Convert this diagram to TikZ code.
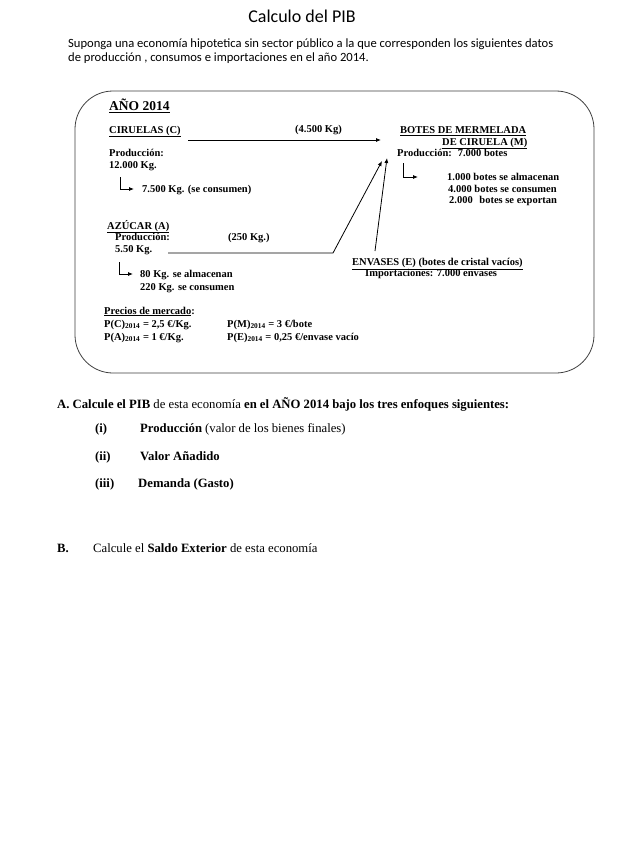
\documentclass[tikz,border=0pt]{standalone}
\usepackage{fontspec}
\setmainfont{Liberation Serif}
\newfontfamily\calfont{Carlito}
\usetikzlibrary{arrows.meta}
\begin{document}
\begin{tikzpicture}[x=1pt,y=-1pt,
  bx/.style={anchor=base west, inner sep=0pt, font=\fontsize{10.5}{12}\selectfont\bfseries},
  low/.style={anchor=base west, inner sep=0pt, font=\fontsize{12.7}{15}\selectfont},
  par/.style={anchor=base west, inner sep=0pt, font=\calfont\fontsize{12.6}{15}\selectfont},
  arr/.style={-{Latex[length=5pt,width=4pt]}, line width=0.8pt},
  frame/.style={line width=0.8pt, rounded corners=38pt, black!75}]
\useasboundingbox (0,0) rectangle (637,848);
\fill[white] (0,0) rectangle (637,848);

% title and intro
\node[anchor=base, inner sep=0pt, font=\calfont\fontsize{18}{21}\selectfont] (title) at (302,23) {Calculo del PIB};
\node[par] (p1) at (68,48) {Suponga una economía hipotetica sin sector público a la que corresponden los siguientes datos};
\node[par] (p2) at (68,62) {de producción , consumos e importaciones en el año 2014.};

% frame
\draw[frame] (75,91) rectangle (594,373);

\node[bx, font=\fontsize{13.5}{15}\selectfont\bfseries] (anio) at (109,111) {\underline{AÑO 2014}};

% Ciruelas
\node[bx] (cir) at (109,133) {\underline{CIRUELAS (C)}};
\node[bx] (q45) at (295,132) {(4.500 Kg)};
\node[bx] (cprod) at (109,156) {Producción:};
\node[bx] (cq) at (109,168) {12.000 Kg.};
\node[bx] (ccons) at (142,192) {7.500 Kg. (se consumen)};

% Mermelada
\node[bx] (m1) at (400,134) {\underline{BOTES DE MERMELADA}};
\node[bx] (m2) at (442,145) {\underline{DE CIRUELA (M)}};
\node[bx] (mprod) at (397,156) {Producción:\hspace{6pt}7.000 botes};
\node[bx] (mal) at (447,180.5) {1.000 botes se almacenan};
\node[bx] (mco) at (448,192) {4.000 botes se consumen};
\node[bx] (mex) at (449,203.5) {2.000\hspace{4pt} botes se exportan};

% Azucar
\node[bx] (az) at (107,229) {\underline{AZÚCAR (A)}};
\node[bx] (aprod) at (115,240.5) {Producción:};
\node[bx] (q250) at (228,240.5) {(250 Kg.)};
\node[bx] (aq) at (115,252.5) {5.50 Kg.};
\node[bx] (aal) at (140,277) {80 Kg. se almacenan};
\node[bx] (aco) at (140,290.5) {220 Kg. se consumen};

% Envases
\node[bx] (env) at (352,265.5) {\underline{ENVASES (E) (botes de cristal vacíos)}};
\node[bx] (imp) at (365,276.5) {Importaciones: 7.000 envases};

% Precios
\node[bx] (prec) at (104,314) {\underline{Precios de mercado}:};
\node[bx] (pc) at (104,327) {P(C)\textsubscript{2014} = 2,5 €/Kg.};
\node[bx] (pa) at (104,340) {P(A)\textsubscript{2014} = 1 €/Kg.};
\node[bx] (pm) at (227,327) {P(M)\textsubscript{2014} = 3 €/bote};
\node[bx] (pe) at (227,340) {P(E)\textsubscript{2014} = 0,25 €/envase vacío};

% connectors
\coordinate (cS) at (188,140);
\coordinate (mInC) at (381,140);
\draw[arr] (cS) -- (mInC);
\coordinate (aS) at (168,253);
\coordinate (aK) at (333,253);
\coordinate (mInA) at (382,161);
\draw[arr] (aS) -- (aK) -- (mInA);
\coordinate (eS) at (375,251);
\coordinate (mInE) at (387,158);
\draw[arr] (eS) -- (mInE);

\coordinate (cL) at (120,177);
\coordinate (cLe) at (134,189);
\draw[arr] (cL) |- (cLe);
\coordinate (aL) at (119,262);
\coordinate (aLe) at (133,274);
\draw[arr] (aL) |- (aLe);
\coordinate (mL) at (403,163);
\coordinate (mLe) at (418,177);
\draw[arr] (mL) |- (mLe);

% questions
\node[low] (qa) at (57,408) {\textbf{A. Calcule el PIB} de esta economía \textbf{en el AÑO 2014 bajo los tres enfoques siguientes:}};
\node[low] (i1) at (95,432) {\textbf{(i)}};
\node[low] (t1) at (140,432) {\textbf{Producción} (valor de los bienes finales)};
\node[low] (i2) at (95,460) {\textbf{(ii)}};
\node[low] (t2) at (140,460) {\textbf{Valor Añadido}};
\node[low] (i3) at (95,487.5) {\textbf{(iii)}};
\node[low] (t3) at (138,487.5) {\textbf{Demanda (Gasto)}};
\node[low] (qb) at (57,552) {\textbf{B.}};
\node[low] (tb) at (93,552) {Calcule el \textbf{Saldo Exterior} de esta economía};
\end{tikzpicture}
\end{document}
